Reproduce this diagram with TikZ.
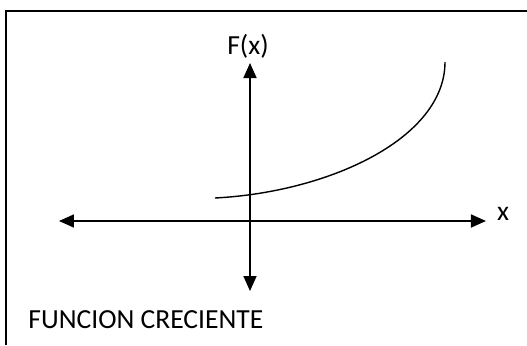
\documentclass[tikz,border=0pt]{standalone}
\usepackage{fontspec}
\setmainfont{Carlito}
\usetikzlibrary{arrows.meta}

\begin{document}
\begin{tikzpicture}[x=0.5pt, y=-0.5pt,
    lbl/.style={font=\fontsize{13.8pt}{16pt}\selectfont, inner sep=0pt},
    axis/.style={line width=0.85pt, {Triangle[length=7.5pt,width=6.5pt]}-{Triangle[length=7.5pt,width=6.5pt]}}]
\useasboundingbox (0,0) rectangle (527,345);
%% frame, only its top and left edges are seen
\draw[line width=1pt] (6,345) -- (6,11) -- (527,11);
%% axes
\coordinate (xl) at (59,221);
\coordinate (xr) at (486,221);
\coordinate (yt) at (250,63);
\coordinate (yb) at (250,291);
\draw[axis] (xl) -- (xr);
\draw[axis] (yb) -- (yt);
\node[lbl] (xlab) at (503,214) {x};
\node[lbl] (flab) at (248,46) {F(x)};
%% the increasing curve
\coordinate (c0) at (215,198);
\coordinate (c1) at (445,62);
\draw[line width=0.7pt] (c0) .. controls (330,192) and (445,138) .. (c1);
\node[lbl, anchor=base west] (title) at (28,328) {FUNCION CRECIENTE};
\end{tikzpicture}
\end{document}
